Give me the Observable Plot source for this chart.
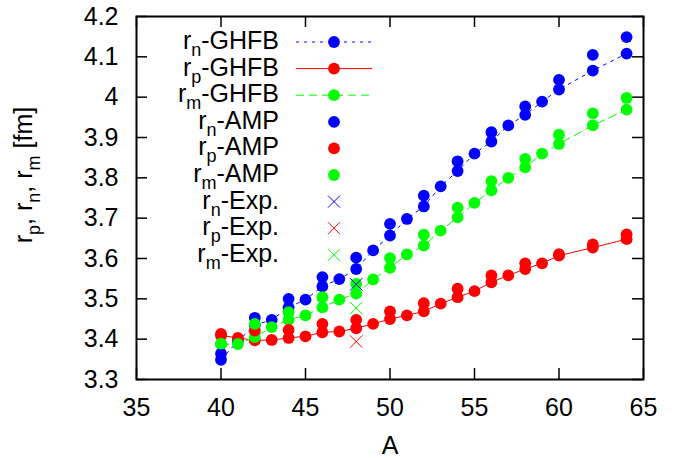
<!DOCTYPE html>
<html><head><meta charset="utf-8">
<script src="https://cdn.jsdelivr.net/npm/d3@7"></script>
<script src="https://cdn.jsdelivr.net/npm/@observablehq/plot@0.6"></script>
<style>html,body{margin:0;padding:0;background:#fff;overflow:hidden}svg{display:block}</style>
</head><body><div id="chart"></div>
<script>
// ---- data ----
const A_ghfb = [40,41,42,43,44,45,46,47,48,49,50,51,52,53,54,55,56,57,58,59,60,62,64];
const rn_ghfb = [3.349,3.395,3.435,3.448,3.479,3.498,3.531,3.549,3.574,3.620,3.657,3.698,3.729,3.779,3.817,3.860,3.890,3.930,3.956,3.989,4.019,4.066,4.108];
const rp_ghfb = [3.409,3.403,3.397,3.398,3.403,3.407,3.417,3.419,3.427,3.438,3.450,3.459,3.469,3.488,3.504,3.519,3.541,3.558,3.574,3.588,3.607,3.627,3.648];
const rm_ghfb = [3.387,3.388,3.405,3.430,3.448,3.459,3.479,3.498,3.513,3.548,3.577,3.610,3.632,3.669,3.702,3.738,3.769,3.800,3.826,3.860,3.884,3.930,3.969];

const A_amp = [40,42,44,46,48,50,52,54,56,58,60,62,64];
const rn_amp = [3.364,3.453,3.500,3.554,3.602,3.686,3.756,3.841,3.913,3.977,4.043,4.105,4.149];
const rp_amp = [3.413,3.421,3.423,3.438,3.448,3.469,3.489,3.525,3.558,3.588,3.611,3.635,3.660];
const rm_amp = [3.389,3.438,3.467,3.504,3.537,3.601,3.659,3.726,3.792,3.847,3.907,3.960,3.998];

const A_exp = [48];
const rn_exp = [3.536];
const rp_exp = [3.394];
const rm_exp = [3.477];

const xTicks = [35,40,45,50,55,60,65];
const yTicks = [3.3,3.4,3.5,3.6,3.7,3.8,3.9,4.0,4.1,4.2];

const xLabel = "A";
const legendBase = ["r","r","r","r","r","r","r","r","r"];
const legendSub  = ["n","p","m","n","p","m","n","p","m"];
const legendRest = ["-GHFB","-GHFB","-GHFB","-AMP","-AMP","-AMP","-Exp.","-Exp.","-Exp."];

// ---- styles ----
const BLUE = "#0000ff", RED = "#ff0000", GREEN = "#00ff00";
const FONT = "'Liberation Sans', Arial, Helvetica, sans-serif";
const W = 691, H = 459, ML = 136, MR = 48, MT = 16, MB = 80;
const FW = W - ML - MR, FH = H - MT - MB, TICK = 11;
const FS = 25, FSUB = 18, FLEG = 25, FLEGSUB = 18;

const ghfb = A_ghfb.map((a, i) => ({A: a, rn: rn_ghfb[i], rp: rp_ghfb[i], rm: rm_ghfb[i]}));
const amp = A_amp.map((a, i) => ({A: a, rn: rn_amp[i], rp: rp_amp[i], rm: rm_amp[i]}));
const exp = A_exp.map((a, i) => ({A: a, rn: rn_exp[i], rp: rp_exp[i], rm: rm_exp[i]}));

const R = 5.9;
const svgEl = Plot.plot({
  width: W, height: H,
  marginLeft: ML, marginRight: MR, marginTop: MT, marginBottom: MB,
  style: {fontFamily: FONT, fontSize: FS + "px", color: "black", background: "white"},
  x: {domain: [35, 65]},
  y: {domain: [3.3, 4.2]},
  marks: [
    Plot.axisX({ticks: xTicks, tickSize: 0, tickPadding: 19, fontSize: FS, label: null, tickFormat: d => String(d)}),
    Plot.axisY({ticks: yTicks, tickSize: 0, tickPadding: 18, fontSize: FS, label: null, tickFormat: d => String(d)}),
    Plot.ruleX(xTicks, {x: d => d, insetTop: FH - TICK, stroke: "black", strokeWidth: 1.5}),
    Plot.ruleX(xTicks, {x: d => d, insetBottom: FH - TICK, stroke: "black", strokeWidth: 1.5}),
    Plot.ruleY(yTicks, {y: d => d, insetRight: FW - TICK, stroke: "black", strokeWidth: 1.5}),
    Plot.ruleY(yTicks, {y: d => d, insetLeft: FW - TICK, stroke: "black", strokeWidth: 1.5}),
    // GHFB
    Plot.line(ghfb, {x: "A", y: "rn", stroke: BLUE, strokeWidth: 1, strokeDasharray: "3,5"}),
    Plot.dot(ghfb, {x: "A", y: "rn", r: R, fill: BLUE}),
    Plot.line(ghfb, {x: "A", y: "rp", stroke: RED, strokeWidth: 1}),
    Plot.dot(ghfb, {x: "A", y: "rp", r: R, fill: RED}),
    Plot.line(ghfb, {x: "A", y: "rm", stroke: GREEN, strokeWidth: 1, strokeDasharray: "8,5"}),
    Plot.dot(ghfb, {x: "A", y: "rm", r: R, fill: GREEN}),
    // AMP
    Plot.dot(amp, {x: "A", y: "rn", r: R, fill: BLUE}),
    Plot.dot(amp, {x: "A", y: "rp", r: R, fill: RED}),
    Plot.dot(amp, {x: "A", y: "rm", r: R, fill: GREEN}),
    // Exp
    Plot.dot(exp, {x: "A", y: "rn", r: 5.7, symbol: "times", stroke: BLUE, strokeWidth: 1}),
    Plot.dot(exp, {x: "A", y: "rp", r: 5.7, symbol: "times", stroke: RED, strokeWidth: 1}),
    Plot.dot(exp, {x: "A", y: "rm", r: 5.7, symbol: "times", stroke: GREEN, strokeWidth: 1}),
    Plot.text([xLabel], {text: d => d, frameAnchor: "bottom", dy: 66, fontSize: FS, lineAnchor: "middle"}),
    Plot.frame({stroke: "black", strokeWidth: 2})
  ]
});
document.getElementById("chart").appendChild(svgEl);

// ---- y label with subscripts ----
const svg = d3.select(svgEl);
const yl = svg.append("text")
  .attr("transform", "translate(32,175) rotate(-90)")
  .attr("text-anchor", "middle")
  .attr("font-family", FONT).attr("font-size", FS).attr("fill", "black");
const ylParts = [["r","p",", "],["r","n",", "],["r","m"," [fm]"]];
ylParts.forEach(([b, s, t]) => {
  yl.append("tspan").text(b);
  yl.append("tspan").attr("font-size", FSUB).attr("dy", 8).text(s);
  yl.append("tspan").attr("dy", -8).text(t);
});

// ---- legend ----
const legColors = [BLUE, RED, GREEN, BLUE, RED, GREEN, BLUE, RED, GREEN];
const legKind = ["line","line","line","dot","dot","dot","x","x","x"];
const legDash = ["3,5", null, "8,5", null, null, null, null, null, null];
const LX = 279, SX0 = 296, SX1 = 372, SC = 334;
legendBase.forEach((b, i) => {
  const y = 42 + i * 26.6;
  const t = svg.append("text").attr("x", LX).attr("y", y + 7).attr("text-anchor", "end")
    .attr("font-family", FONT).attr("font-size", FLEG).attr("fill", "black");
  t.append("tspan").text(b);
  t.append("tspan").attr("font-size", FLEGSUB).attr("dy", 7).text(legendSub[i]);
  t.append("tspan").attr("dy", -7).text(legendRest[i]);
  const c = legColors[i];
  if (legKind[i] === "line") {
    const l = svg.append("line").attr("x1", SX0).attr("x2", SX1).attr("y1", y).attr("y2", y)
      .attr("stroke", c).attr("stroke-width", 1);
    if (legDash[i]) l.attr("stroke-dasharray", legDash[i]);
  }
  if (legKind[i] === "line" || legKind[i] === "dot") {
    svg.append("circle").attr("cx", SC).attr("cy", y).attr("r", R).attr("fill", c);
  } else {
    const s = 6;
    svg.append("path").attr("d", `M${SC-s},${y-s}L${SC+s},${y+s}M${SC-s},${y+s}L${SC+s},${y-s}`)
      .attr("stroke", c).attr("stroke-width", 1).attr("fill", "none");
  }
});
</script>
</body></html>
